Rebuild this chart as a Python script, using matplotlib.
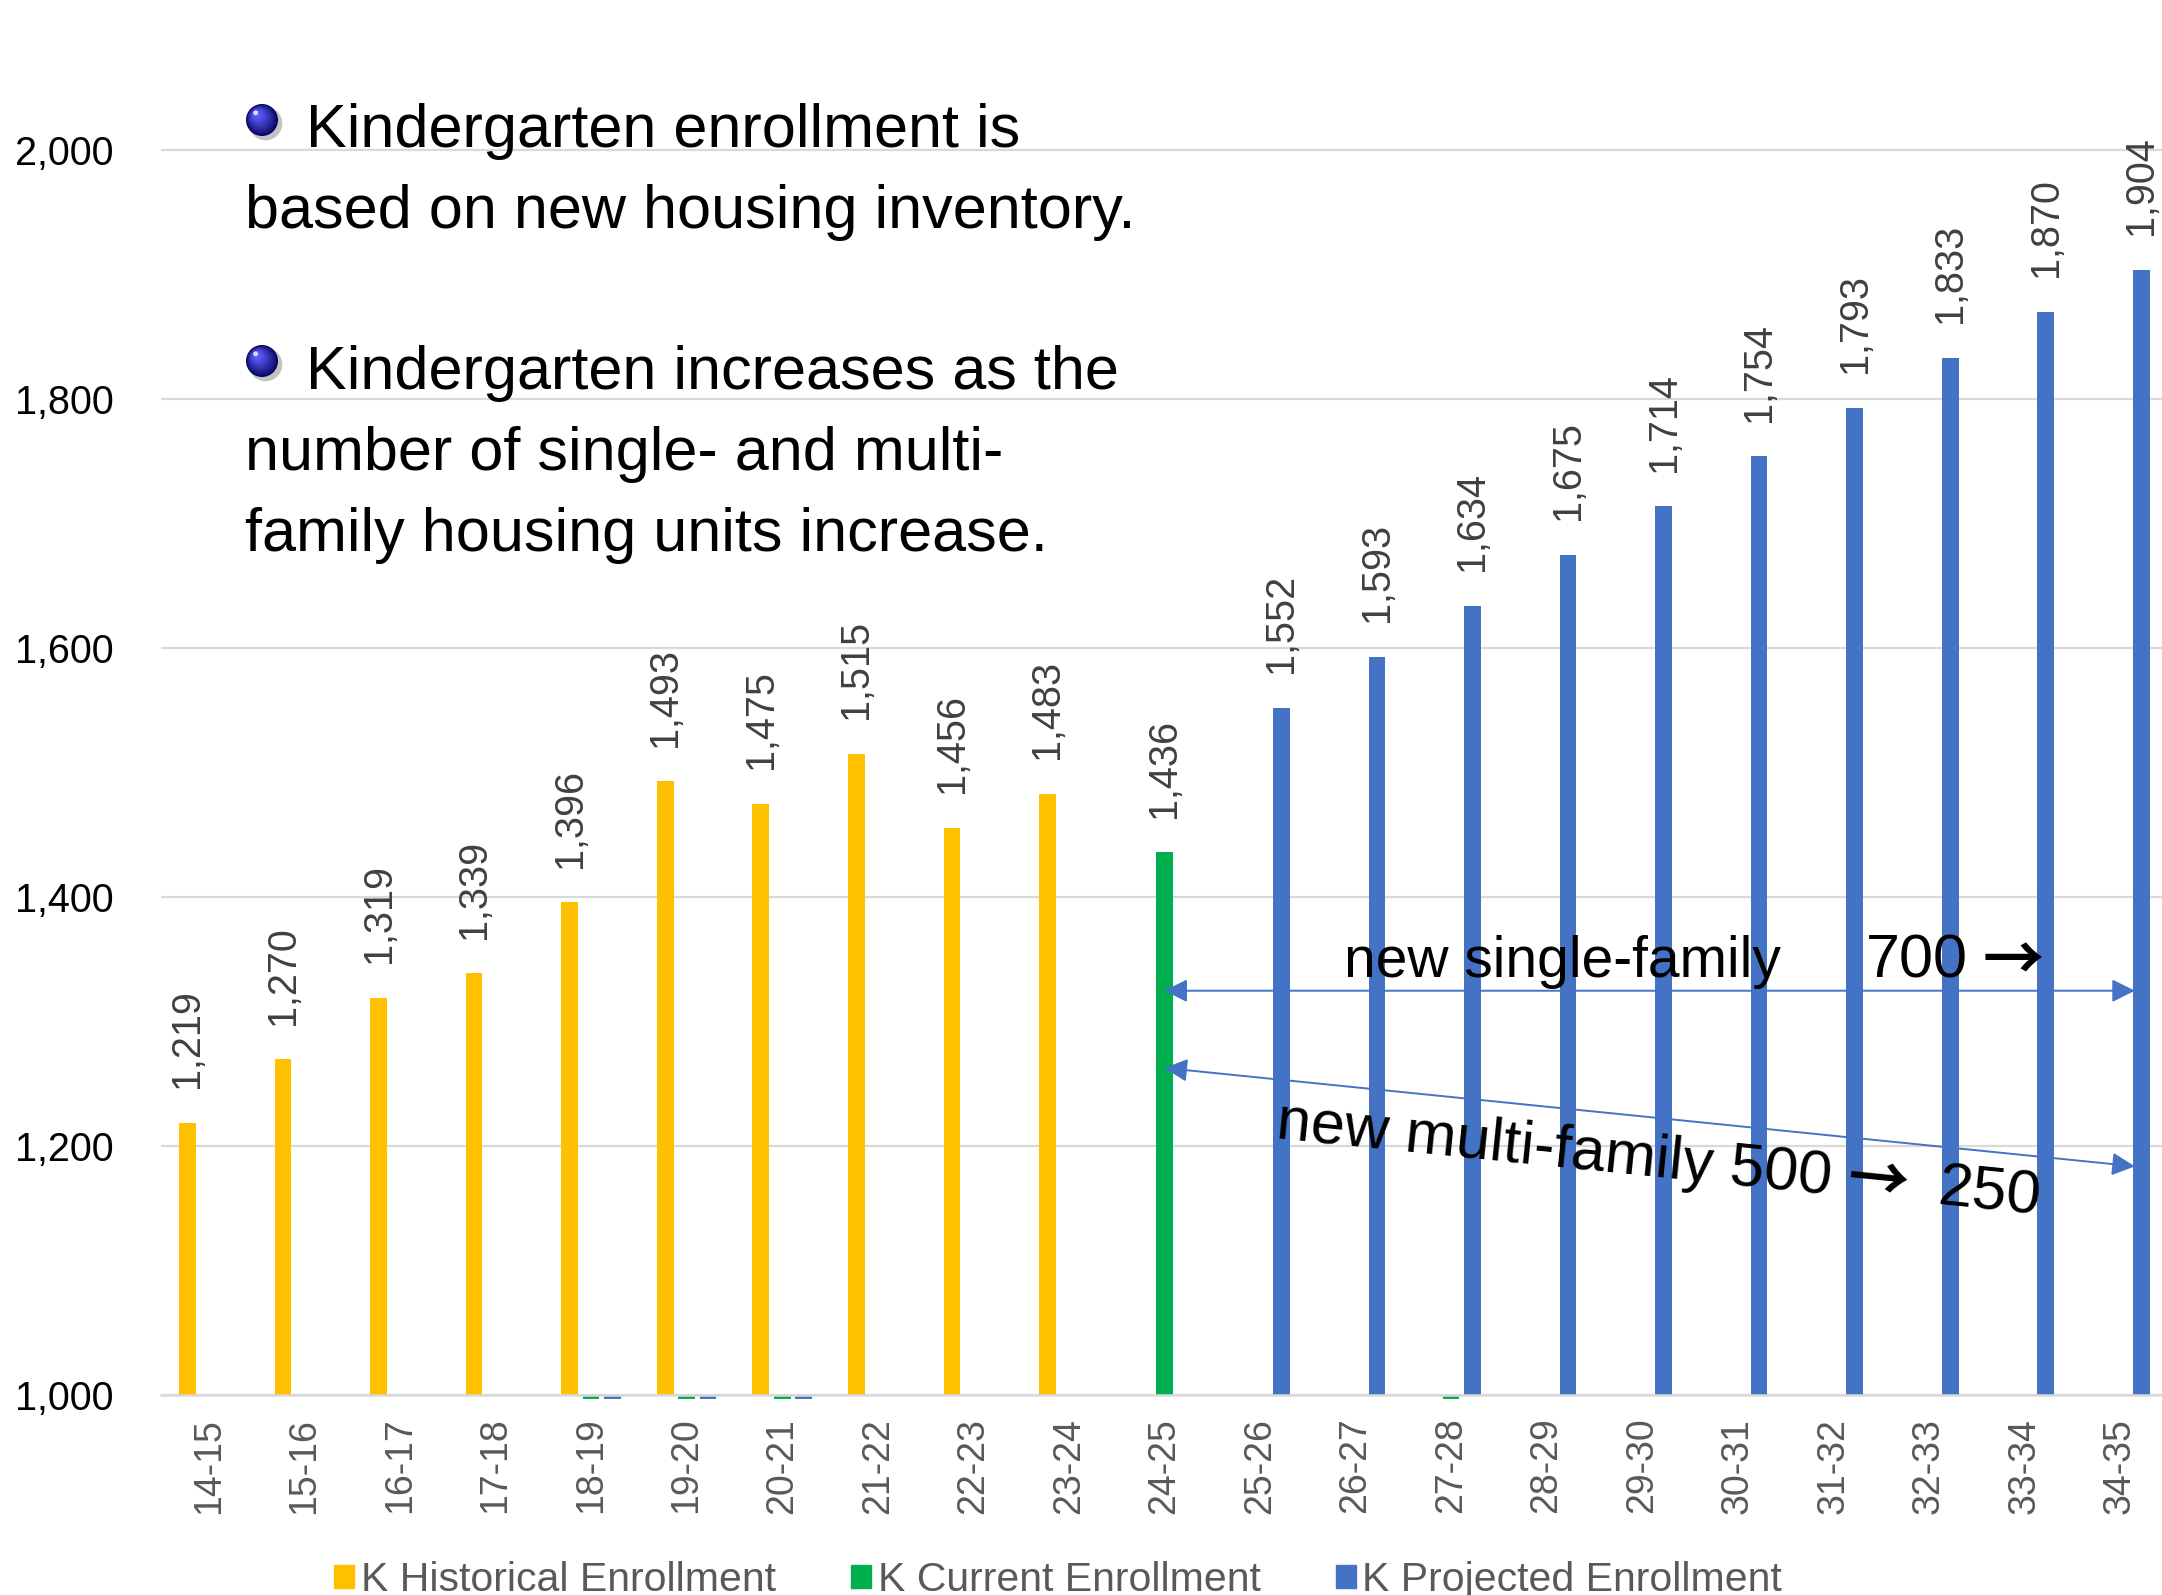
import numpy as np
import matplotlib
matplotlib.use('Agg')
import matplotlib.pyplot as plt
from matplotlib.patches import Patch, Circle
from matplotlib.colors import to_rgb

plt.rcParams['font.family'] = ['Liberation Sans', 'DejaVu Sans']

# data
years = ['14-15', '15-16', '16-17', '17-18', '18-19', '19-20', '20-21', '21-22', '22-23', '23-24',
         '24-25', '25-26', '26-27', '27-28', '28-29', '29-30', '30-31', '31-32', '32-33', '33-34', '34-35']
nan = np.nan
historical = [1219, 1270, 1319, 1339, 1396, 1493, 1475, 1515, 1456, 1483,
              nan, nan, nan, nan, nan, nan, nan, nan, nan, nan, nan]
# zero values show as tiny stubs under the axis
current = [nan, nan, nan, nan, 0, 0, 0, nan, nan, nan,
           1436, nan, nan, 0, nan, nan, nan, nan, nan, nan, nan]
projected = [nan, nan, nan, nan, 0, 0, 0, nan, nan, nan,
             nan, 1552, 1593, 1634, 1675, 1714, 1754, 1793, 1833, 1870, 1904]
series_names = ['K Historical Enrollment', 'K Current Enrollment', 'K Projected Enrollment']
colors = ['#FFC000', '#00B050', '#4472C4']

fig = plt.figure(figsize=(21.62, 15.95), dpi=100)
ax = fig.add_axes([0.0745, 0.12508, 0.9255, 0.85893])

x = np.arange(len(years))
offsets = [-0.224, 0.0, 0.224]
width = 0.175
ymin = 1000

for vals, off, col in zip([historical, current, projected], offsets, colors):
    vals = np.array(vals, dtype=float)
    for xi, v in zip(x, vals):
        if np.isnan(v):
            continue
        if v == 0:
            ax.bar(xi + off, -2.5, width=width, bottom=ymin, color=col, clip_on=False, zorder=1)
            continue
        ax.bar(xi + off, v - ymin, width=width, bottom=ymin, color=col, zorder=2)
        ax.annotate(f'{int(v):,}', (xi + off, v), xytext=(0, 25), textcoords='offset points',
                    rotation=90, ha='center', va='bottom', fontsize=28.5, color='#404040')

ax.set_xlim(-0.5, 20.44)
ax.set_ylim(1000, 2100)
ax.set_yticks(range(1000, 2001, 200))
ax.set_yticklabels([f'{t:,}' for t in range(1000, 2001, 200)])
ax.set_xticks(x)
ax.set_xticklabels(years, rotation=90)
ax.tick_params(axis='y', length=0, pad=34, labelsize=28.5, labelcolor='black')
ax.tick_params(axis='x', length=0, pad=16, labelsize=27, labelcolor='#595959')
ax.grid(axis='y', color='#D9D9D9', linewidth=1.6, zorder=0)
ax.set_axisbelow(True)
for s in ['top', 'right', 'left']:
    ax.spines[s].set_visible(False)
ax.spines['bottom'].set_color('#D9D9D9')
ax.spines['bottom'].set_linewidth(1.8)
ax.spines['bottom'].set_zorder(3)

# housing arrows
arrow_kw = dict(arrowstyle='<|-|>,head_length=0.7,head_width=0.35', color='#4472C4',
                lw=1.4, mutation_scale=20, shrinkA=0, shrinkB=0)
ax.annotate('', xy=(20.156, 1325), xytext=(10, 1325), arrowprops=arrow_kw, zorder=5)
ax.annotate('', xy=(20.156, 1184), xytext=(10, 1263), arrowprops=arrow_kw, zorder=5)

# legend
handles = [Patch(color=c) for c in colors]
fig.legend(handles, series_names, ncol=3, loc='center', bbox_to_anchor=(0.4895, 0.0095),
           bbox_transform=fig.transFigure, frameon=False, fontsize=29.5, labelcolor='#595959',
           handlelength=0.47, handleheight=0.47, handletextpad=0.17, columnspacing=1.85,
           borderpad=0, borderaxespad=0)

# overlay in pixel coords for the notes
ov = fig.add_axes([0, 0, 1, 1])
ov.set_xlim(0, 2162)
ov.set_ylim(1595, 0)
ov.axis('off')
ov.patch.set_visible(False)


def sphere(cx, cy, r):
    ov.add_patch(Circle((cx + 3.5, cy + 3.5), r * 1.05, color='#6a6a6a', alpha=0.4, lw=0))
    dark = np.array(to_rgb('#04045e'))
    light = np.array(to_rgb('#6060ff'))
    n = 14
    for i in range(n):
        t = i / n
        rr = r * (1 - 0.85 * t)
        c = dark + (light - dark) * t ** 0.8
        ov.add_patch(Circle((cx - 0.35 * r * t, cy - 0.38 * r * t), rr, color=c, lw=0))
    ov.add_patch(Circle((cx - 0.4 * r, cy - 0.45 * r), r * 0.15, color='white', alpha=0.8, lw=0))


note_fs = 44
sphere(262, 120, 16)
ov.text(306, 147, 'Kindergarten enrollment is', fontsize=note_fs, va='baseline', color='black')
ov.text(245, 228, 'based on new housing inventory.', fontsize=note_fs, va='baseline', color='black')
sphere(262, 361, 16)
ov.text(306, 389, 'Kindergarten increases as the', fontsize=note_fs, va='baseline', color='black')
ov.text(245, 470, 'number of single- and multi-', fontsize=note_fs, va='baseline', color='black')
ov.text(245, 551, 'family housing units increase.', fontsize=note_fs, va='baseline', color='black')

arrow_font = ['Noto Sans CJK JP', 'DejaVu Sans']
ov.text(1344, 977, 'new single-family', fontsize=41, va='baseline', color='black')
ov.text(1866, 977, '700', fontsize=44, va='baseline', color='black')
ov.text(1983, 981, '→', fontsize=44, va='baseline', color='black', family=arrow_font,
        fontweight='bold')

rot = -5.8
ov.text(1275, 1138, 'new multi-family 500', fontsize=44, va='baseline', ha='left',
        rotation=rot, rotation_mode='anchor', color='black')
ov.text(1846, 1198, '→', fontsize=44, va='baseline', ha='left', family=arrow_font,
        fontweight='bold', rotation=rot, rotation_mode='anchor', color='black')
ov.text(1937, 1205, '250', fontsize=44.5, va='baseline', ha='left',
        rotation=rot, rotation_mode='anchor', color='black')

fig.savefig('out.png', dpi=100)
